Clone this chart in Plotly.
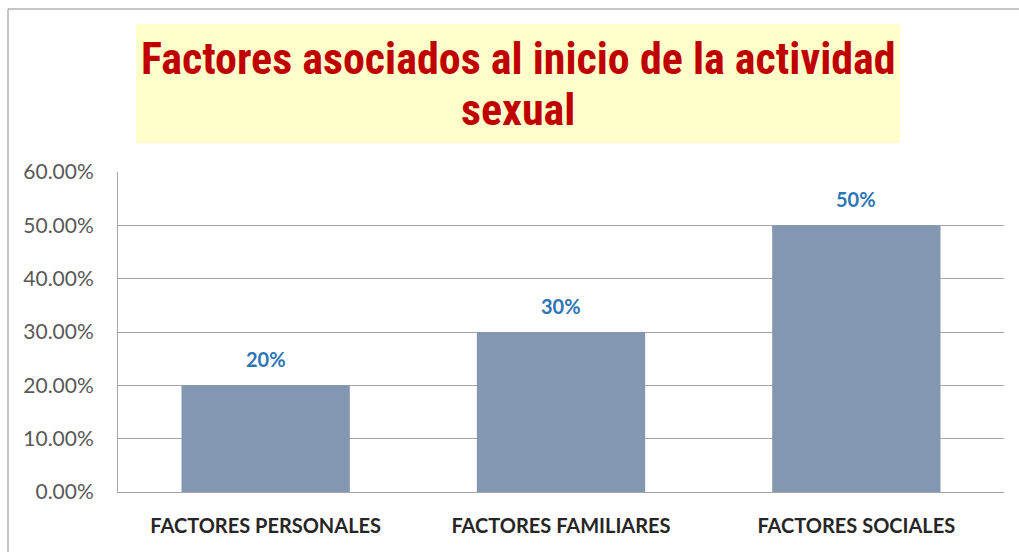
import plotly.graph_objects as go

categories = ["FACTORES PERSONALES", "FACTORES FAMILIARES", "FACTORES SOCIALES"]
values = [0.20, 0.30, 0.50]
title_lines = ["Factores asociados al inicio de la actividad", "sexual"]

COND = "Roboto Condensed, Liberation Sans Narrow, sans-serif"
BODY = "Lato, Open Sans, sans-serif"

W, H = 1019, 552
L, R, T, B = 118, 15, 172, 60
pw, ph = W - L - R, H - T - B

def px(x):
    return (x - L) / pw

def py(y):
    return (H - B - y) / ph

fig = go.Figure(go.Bar(
    x=categories, y=values,
    marker=dict(color="#8497B0", line=dict(width=0)),
    width=0.57,
    hoverinfo="skip",
))

label_annotations = [
    dict(x=c, y=v, xref="x", yref="y", text=f"{v:.0%}", showarrow=False,
         yshift=26, xanchor="center", yanchor="middle",
         font=dict(family=BODY, size=20, color="#2E75B6", weight="bold"))
    for c, v in zip(categories, values)
]

fig.update_layout(
    width=W, height=H,
    margin=dict(l=L, r=R, t=T, b=B),
    paper_bgcolor="white", plot_bgcolor="white",
    showlegend=False,
    bargap=0.43,
    font=dict(family=BODY),
    xaxis=dict(
        showline=True, linecolor="#A6A6A6", linewidth=1,
        ticks="", showgrid=False, ticklabelstandoff=16,
        tickfont=dict(family=BODY, size=20, color="#262626", weight="bold"),
    ),
    yaxis=dict(
        range=[0, 0.6], dtick=0.1, tickformat=".2%",
        showgrid=True, gridcolor="#A6A6A6", gridwidth=1,
        showline=True, linecolor="#A6A6A6", linewidth=1,
        zeroline=False, ticks="", ticklen=0, ticklabelstandoff=19,
        tickfont=dict(family=BODY, size=21, color="#595959"),
    ),
    shapes=[
        dict(type="rect", xref="paper", yref="paper",
             x0=px(8), x1=px(1040), y0=py(9), y1=py(600),
             line=dict(color="#8C8C8C", width=1), fillcolor="rgba(0,0,0,0)", layer="below"),
        dict(type="rect", xref="paper", yref="paper",
             x0=px(136), x1=px(900), y0=py(143), y1=py(24),
             line=dict(width=0), fillcolor="#FFFFCC", layer="below"),
    ],
    annotations=label_annotations + [
        dict(xref="paper", yref="paper", x=px(518), y=py(59),
             text=title_lines[0], showarrow=False, xanchor="center", yanchor="middle",
             font=dict(family=COND, size=44, color="#C00000", weight="bold")),
        dict(xref="paper", yref="paper", x=px(518), y=py(110),
             text=title_lines[1], showarrow=False, xanchor="center", yanchor="middle",
             font=dict(family=COND, size=44, color="#C00000", weight="bold")),
    ],
)

fig.write_html("out.html", config={"displayModeBar": False},
               post_script="document.body.style.margin='0';document.body.style.padding='0';")
